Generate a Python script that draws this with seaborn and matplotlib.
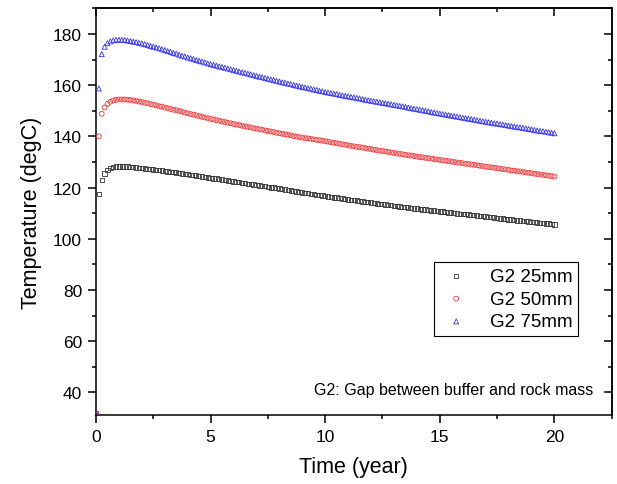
import numpy as np
import pandas as pd
import seaborn as sns
import matplotlib.pyplot as plt
from matplotlib.ticker import MultipleLocator

# time step of the model output (years)
step = 0.125

# G2 25mm (one row per year, 8 outputs per year)
temp_25mm = [
    32.0, 117.5, 123.0, 125.5, 126.8, 127.6, 128.0, 128.2,
    128.3, 128.3, 128.3, 128.2, 128.1, 128.0, 127.9, 127.7,
    127.6, 127.5, 127.3, 127.2, 127.1, 126.9, 126.8, 126.6,
    126.5, 126.3, 126.2, 126.0, 125.9, 125.7, 125.5, 125.4,
    125.2, 125.0, 124.9, 124.7, 124.5, 124.3, 124.2, 124.0,
    123.8, 123.6, 123.5, 123.3, 123.1, 122.9, 122.8, 122.6,
    122.4, 122.2, 122.1, 121.9, 121.7, 121.5, 121.4, 121.2,
    121.0, 120.8, 120.7, 120.5, 120.3, 120.1, 120.0, 119.8,
    119.6, 119.4, 119.2, 119.0, 118.9, 118.7, 118.5, 118.3,
    118.1, 117.9, 117.8, 117.6, 117.4, 117.2, 117.1, 116.9,
    116.7, 116.5, 116.4, 116.2, 116.1, 115.9, 115.7, 115.6,
    115.4, 115.2, 115.1, 114.9, 114.8, 114.6, 114.4, 114.3,
    114.1, 114.0, 113.8, 113.7, 113.5, 113.4, 113.2, 113.1,
    112.9, 112.8, 112.6, 112.5, 112.4, 112.2, 112.1, 111.9,
    111.8, 111.7, 111.5, 111.4, 111.3, 111.1, 111.0, 110.8,
    110.7, 110.6, 110.5, 110.3, 110.2, 110.1, 109.9, 109.8,
    109.7, 109.6, 109.5, 109.3, 109.2, 109.1, 108.9, 108.8,
    108.7, 108.6, 108.4, 108.3, 108.2, 108.0, 107.9, 107.7,
    107.6, 107.5, 107.4, 107.2, 107.1, 107.0, 106.9, 106.7,
    106.6, 106.5, 106.4, 106.2, 106.1, 106.0, 105.9, 105.7,
    105.6,
]

# G2 50mm
temp_50mm = [
    32.0, 140.0, 148.8, 151.3, 152.7, 153.5, 154.0, 154.3,
    154.4, 154.4, 154.4, 154.3, 154.2, 154.0, 153.8, 153.6,
    153.4, 153.1, 152.9, 152.6, 152.4, 152.1, 151.8, 151.6,
    151.3, 151.0, 150.7, 150.4, 150.2, 149.9, 149.6, 149.3,
    149.0, 148.7, 148.5, 148.2, 147.9, 147.6, 147.4, 147.1,
    146.8, 146.6, 146.3, 146.1, 145.8, 145.6, 145.3, 145.1,
    144.8, 144.6, 144.4, 144.1, 143.9, 143.7, 143.5, 143.2,
    143.0, 142.8, 142.6, 142.3, 142.1, 141.9, 141.7, 141.4,
    141.2, 141.0, 140.8, 140.6, 140.4, 140.1, 139.9, 139.7,
    139.5, 139.3, 139.2, 139.0, 138.8, 138.6, 138.5, 138.3,
    138.1, 137.9, 137.7, 137.5, 137.3, 137.1, 136.9, 136.7,
    136.5, 136.3, 136.1, 135.9, 135.8, 135.6, 135.4, 135.2,
    135.0, 134.8, 134.6, 134.4, 134.3, 134.1, 133.9, 133.7,
    133.5, 133.3, 133.2, 133.0, 132.8, 132.6, 132.5, 132.3,
    132.1, 131.9, 131.8, 131.6, 131.5, 131.3, 131.1, 131.0,
    130.8, 130.6, 130.5, 130.3, 130.2, 130.0, 129.8, 129.7,
    129.5, 129.3, 129.2, 129.0, 128.9, 128.7, 128.5, 128.4,
    128.2, 128.0, 127.9, 127.7, 127.6, 127.4, 127.2, 127.1,
    126.9, 126.7, 126.6, 126.4, 126.3, 126.1, 125.9, 125.8,
    125.6, 125.4, 125.3, 125.1, 125.0, 124.8, 124.6, 124.5,
    124.3,
]

# G2 75mm
temp_75mm = [
    32.0, 158.7, 172.1, 175.0, 176.4, 177.1, 177.5, 177.7,
    177.7, 177.7, 177.6, 177.4, 177.2, 177.0, 176.8, 176.5,
    176.3, 176.0, 175.7, 175.3, 175.0, 174.7, 174.4, 174.0,
    173.7, 173.3, 173.0, 172.6, 172.3, 171.9, 171.5, 171.2,
    170.8, 170.5, 170.2, 169.8, 169.5, 169.2, 168.9, 168.5,
    168.2, 167.9, 167.6, 167.3, 167.1, 166.8, 166.5, 166.2,
    165.9, 165.6, 165.3, 165.0, 164.8, 164.5, 164.2, 163.9,
    163.6, 163.3, 163.1, 162.8, 162.5, 162.2, 162.0, 161.7,
    161.4, 161.1, 160.9, 160.6, 160.4, 160.1, 159.8, 159.6,
    159.3, 159.1, 158.8, 158.6, 158.3, 158.1, 157.8, 157.6,
    157.3, 157.1, 156.9, 156.7, 156.5, 156.2, 156.0, 155.8,
    155.6, 155.4, 155.2, 155.0, 154.8, 154.5, 154.3, 154.1,
    153.9, 153.7, 153.5, 153.3, 153.1, 152.9, 152.7, 152.5,
    152.3, 152.1, 151.9, 151.7, 151.5, 151.2, 151.0, 150.8,
    150.6, 150.4, 150.2, 150.0, 149.8, 149.5, 149.3, 149.1,
    148.9, 148.7, 148.5, 148.3, 148.1, 147.9, 147.7, 147.5,
    147.3, 147.1, 146.9, 146.7, 146.5, 146.3, 146.1, 145.9,
    145.7, 145.5, 145.3, 145.1, 145.0, 144.8, 144.6, 144.4,
    144.2, 144.0, 143.8, 143.6, 143.5, 143.3, 143.1, 142.9,
    142.7, 142.5, 142.3, 142.1, 142.0, 141.8, 141.6, 141.4,
    141.2,
]

years = np.arange(len(temp_25mm)) * step

labels = ["G2 25mm", "G2 50mm", "G2 75mm"]
colors = ["#333333", "#ff3333", "#3333ff"]
markers = ["s", "o", "^"]
sizes = [10, 12, 13]

df = pd.DataFrame({"year": years, labels[0]: temp_25mm,
                   labels[1]: temp_50mm, labels[2]: temp_75mm})

sns.set_style("ticks")
plt.rcParams["font.family"] = ["Liberation Sans", "DejaVu Sans"]
plt.rcParams.update({"text.color": "black", "axes.labelcolor": "black",
                     "xtick.color": "black", "ytick.color": "black"})

fig = plt.figure(figsize=(6.17, 4.85), dpi=100)
ax = fig.add_axes([0.1556, 0.1423, 0.8358, 0.8385])

for lab, c, m, s in zip(labels, colors, markers, sizes):
    sns.scatterplot(data=df, x="year", y=lab, marker=m, s=s, color=c,
                    edgecolor=c, facecolor="none", linewidth=0.6,
                    label=lab, ax=ax, zorder=3)

ax.set_xlim(0, 22.5)
ax.set_ylim(31.2, 190)
ax.xaxis.set_major_locator(MultipleLocator(5))
ax.xaxis.set_minor_locator(MultipleLocator(2.5))
ax.yaxis.set_major_locator(MultipleLocator(20))
ax.yaxis.set_minor_locator(MultipleLocator(10))

for sp in ax.spines.values():
    sp.set_linewidth(1.1)
    sp.set_color("black")
ax.tick_params(which="major", direction="out", length=6, width=1.1,
               labelsize=12.5, pad=4)
ax.tick_params(which="minor", direction="out", length=3, width=1.1)

# inward ticks on the top and right frame
top = ax.secondary_xaxis("top")
right = ax.secondary_yaxis("right")
top.xaxis.set_major_locator(MultipleLocator(5))
top.xaxis.set_minor_locator(MultipleLocator(2.5))
right.yaxis.set_major_locator(MultipleLocator(20))
right.yaxis.set_minor_locator(MultipleLocator(10))
for sec in (top, right):
    sec.tick_params(which="major", direction="in", length=6, width=1.1,
                    labeltop=False, labelright=False)
    sec.tick_params(which="minor", direction="in", length=3, width=1.1)
    for sp in sec.spines.values():
        sp.set_linewidth(1.1)
        sp.set_color("black")

ax.set_xlabel("Time (year)", fontsize=15.5, labelpad=9)
ax.set_ylabel("Temperature (degC)", fontsize=15.5, labelpad=8)

ax.text(0.964, 0.062, "G2: Gap between buffer and rock mass",
        transform=ax.transAxes, ha="right", va="center", fontsize=11.5)

leg = ax.legend(loc="upper right", bbox_to_anchor=(0.935, 0.376),
                fontsize=13.5, frameon=True, fancybox=False, framealpha=1,
                edgecolor="black", handletextpad=0.9, borderpad=0.3,
                labelspacing=0.3, handlelength=1.8, borderaxespad=0)
leg.get_frame().set_linewidth(0.8)

fig.savefig("out.png", dpi=100)
